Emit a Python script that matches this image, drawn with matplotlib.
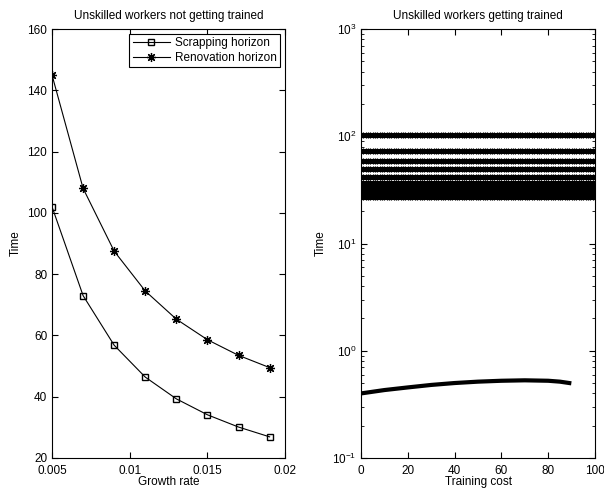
import numpy as np
import matplotlib.pyplot as plt

plt.rcParams['font.family'] = ['Liberation Sans', 'DejaVu Sans']
plt.rcParams['font.size'] = 8.5
plt.rcParams['mathtext.fontset'] = 'custom'
plt.rcParams['mathtext.rm'] = 'Liberation Sans'

# left panel: horizons vs growth rate
growth_rate = [0.005, 0.007, 0.009, 0.011, 0.013, 0.015, 0.017, 0.019]
scrapping = [102, 73, 56.8, 46.4, 39.3, 34.1, 30.1, 26.9]
renovation = [145, 108, 87.5, 74.5, 65.3, 58.6, 53.5, 49.5]

# right panel: horizons vs training cost
train_cost = np.arange(0, 101)
upper_levels = [102, 73, 59, 49, 42, 37, 33, 29.5, 27]
low_cost = [0, 10, 20, 30, 40, 50, 60, 70, 80, 85, 89]
low_time = [0.40, 0.43, 0.455, 0.48, 0.50, 0.515, 0.525, 0.53, 0.525, 0.515, 0.50]

ASTERISK = (8, 2, 0)

fig = plt.figure(figsize=(6.04, 4.88), dpi=100)
ax1 = fig.add_axes([0.0861, 0.0615, 0.386, 0.879])
ax2 = fig.add_axes([0.5977, 0.0615, 0.3874, 0.879])

ax1.plot(growth_rate, scrapping, 'k-', marker='s', mfc='none', ms=5, lw=0.8,
         label='Scrapping horizon')
ax1.plot(growth_rate, renovation, 'k-', marker=ASTERISK, ms=6.5, lw=0.8,
         mew=0.9, label='Renovation horizon')
ax1.set_xlim(0.005, 0.02)
ax1.set_ylim(20, 160)
ax1.set_xticks([0.005, 0.01, 0.015, 0.02])
ax1.set_xticklabels(['0.005', '0.01', '0.015', '0.02'])
ax1.set_yticks(range(20, 161, 20))
ax1.set_xlabel('Growth rate')
ax1.set_ylabel('Time')
ax1.set_title('Unskilled workers not getting trained', fontsize=8.5, pad=7)
leg = ax1.legend(loc='upper right', fancybox=False, edgecolor='k',
                 framealpha=1, borderaxespad=0.4, handlelength=3.2,
                 borderpad=0.3, labelspacing=0.2, handletextpad=0.4)
leg.get_frame().set_linewidth(0.8)

for lvl in upper_levels:
    ax2.plot(train_cost, [lvl] * len(train_cost), 'k-', marker=ASTERISK,
             ms=4, mew=0.9, lw=0.6)
ax2.plot(low_cost, low_time, 'k-', lw=3)
ax2.set_yscale('log')
ax2.set_xlim(0, 100)
ax2.set_ylim(0.1, 1000)
ax2.set_xlabel('Training cost')
ax2.set_ylabel('Time')
ax2.set_title('Unskilled workers getting trained', fontsize=8.5, pad=7)

for ax in (ax1, ax2):
    ax.tick_params(which='both', direction='in', top=True, right=True,
                   labelsize=8.5)
    ax.tick_params(which='major', length=4)
    ax.tick_params(which='minor', length=2)
    ax.tick_params(axis='x', pad=5)
    ax.xaxis.set_label_coords(0.5, -0.041)
    for s in ax.spines.values():
        s.set_linewidth(0.8)

fig.savefig('out.png', dpi=100)
